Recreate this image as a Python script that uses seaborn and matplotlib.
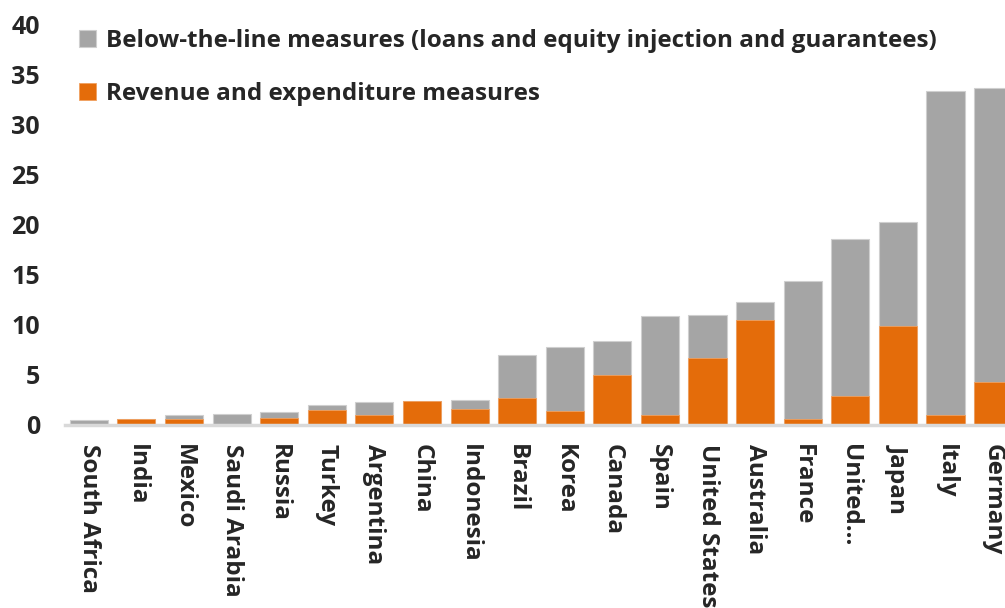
import pandas as pd
import numpy as np
import matplotlib
matplotlib.use("Agg")
import matplotlib.pyplot as plt
import seaborn as sns

countries = ["South Africa", "India", "Mexico", "Saudi Arabia", "Russia", "Turkey",
             "Argentina", "China", "Indonesia", "Brazil", "Korea", "Canada", "Spain",
             "United States", "Australia", "France", "United...", "Japan", "Italy", "Germany"]
revenue = [0.0, 0.6, 0.6, 0.0, 0.7, 1.5, 1.0, 2.4, 1.6, 2.75, 1.4, 5.05, 1.05,
           6.75, 10.5, 0.6, 2.9, 9.9, 1.05, 4.3]
below_line = [0.5, 0.0, 0.4, 1.1, 0.6, 0.5, 1.3, 0.0, 0.95, 4.25, 6.4, 3.35, 9.85,
              4.25, 1.85, 13.8, 15.7, 10.4, 32.35, 29.4]

df = pd.DataFrame({"country": countries, "revenue": revenue, "below": below_line})
# stacked: grey bar is the total, orange drawn on top
df["total"] = df["revenue"] + df["below"]

sns.set_style("white")
plt.rcParams["font.family"] = ["Open Sans", "DejaVu Sans"]
plt.rcParams["font.weight"] = "bold"

fig = plt.figure(figsize=(10.05, 6.08), dpi=100)
ax = fig.add_axes([65 / 1005, 183 / 608, 1 - 65 / 1005, 400 / 608])

sns.barplot(data=df, x="country", y="total", color="#A5A5A5", width=0.8,
            edgecolor="#cfcfcf", linewidth=0.8, saturation=1, ax=ax,
            label="Below-the-line measures (loans and equity injection and guarantees)")
sns.barplot(data=df, x="country", y="revenue", color="#E46C0A", width=0.8,
            edgecolor="#f0a060", linewidth=0.6, saturation=1, ax=ax,
            label="Revenue and expenditure measures")

ax.set_xlim(-0.5, 19.25)
ax.set_ylim(0, 40)
ax.set_yticks(np.arange(0, 41, 5))
ax.set_xlabel("")
ax.set_ylabel("")

for s in ["top", "right", "left"]:
    ax.spines[s].set_visible(False)
ax.spines["bottom"].set_color("#d9d9d9")
ax.spines["bottom"].set_linewidth(2.5)

ax.tick_params(axis="y", length=0, pad=18, labelsize=18)
ax.tick_params(axis="x", length=0, pad=14, labelsize=17.5)
for lab in ax.get_yticklabels():
    lab.set_fontweight("bold")
for lab in ax.get_xticklabels():
    lab.set_rotation(270)
    lab.set_fontweight("bold")
    lab.set_va("top")
    lab.set_ha("center")

leg = ax.legend(loc="upper left", bbox_to_anchor=(0.005, 1.015), frameon=False,
                prop={"size": 17.5, "weight": "bold"}, handlelength=0.7,
                handleheight=0.7, handletextpad=0.4, labelspacing=1.2,
                borderaxespad=0)

fig.savefig("out.png", dpi=100)
